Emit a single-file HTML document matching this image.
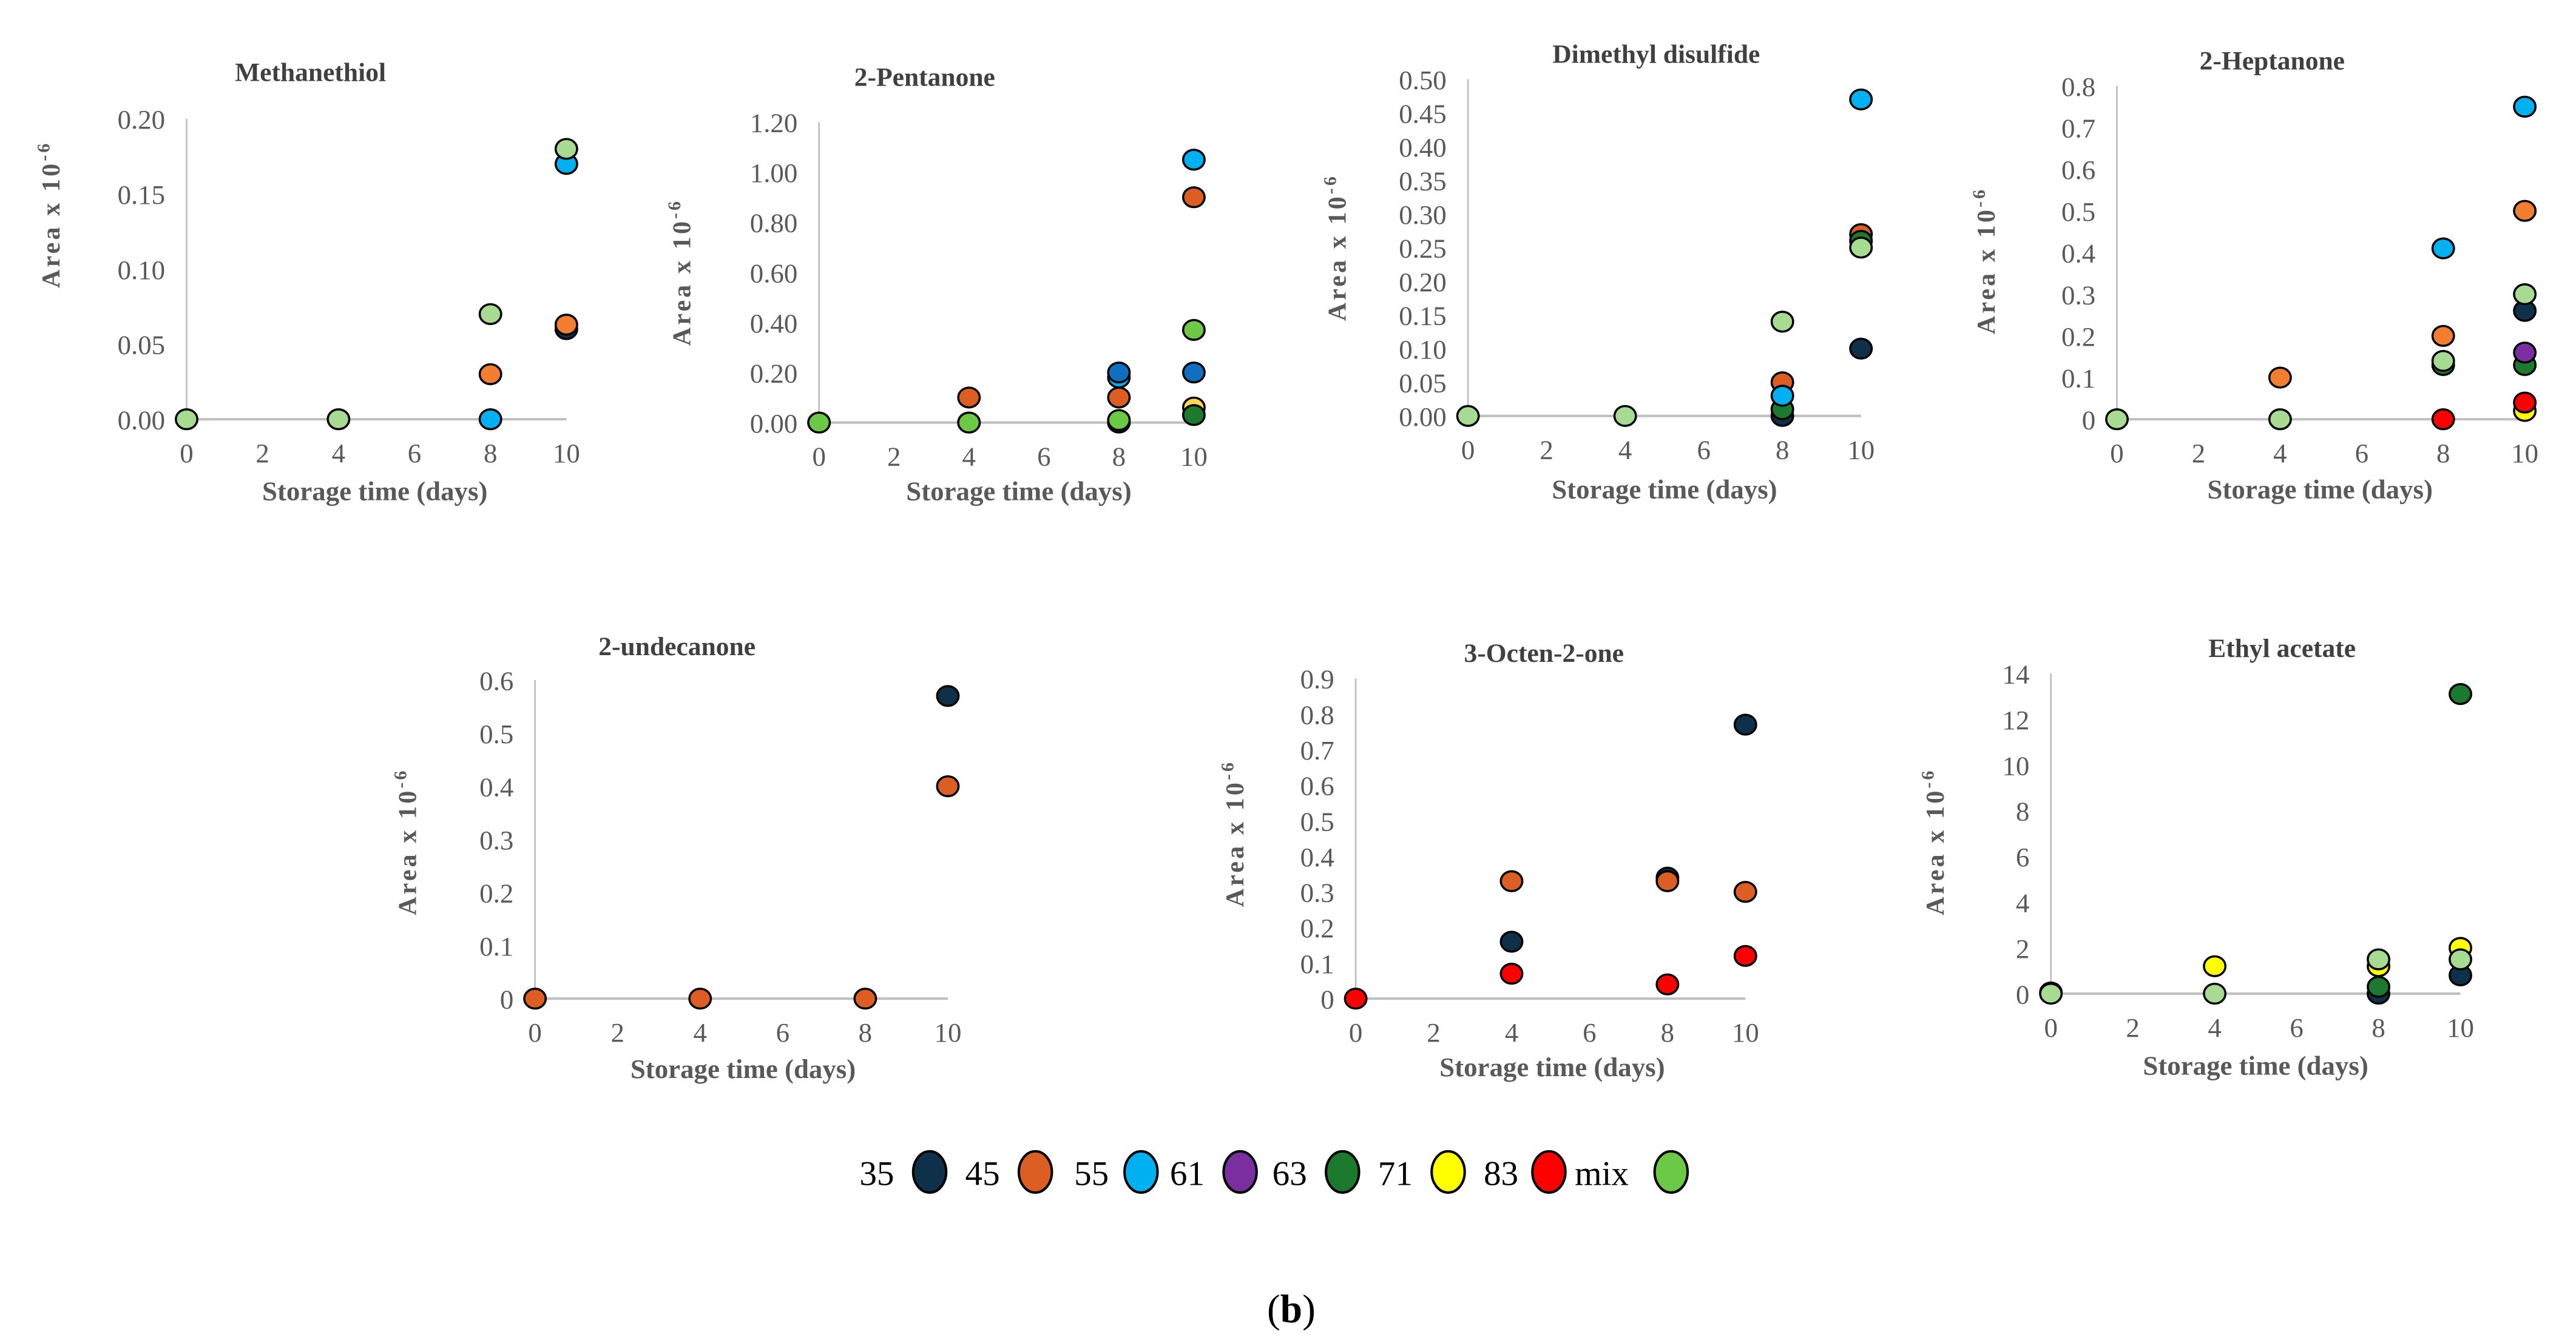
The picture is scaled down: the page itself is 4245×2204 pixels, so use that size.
<!DOCTYPE html>
<html><head><meta charset="utf-8"><style>
html,body{margin:0;padding:0;background:#fff;}
svg{display:block;}
</style></head><body>
<svg id="fig" width="4245" height="2204" viewBox="0 0 1560 810" preserveAspectRatio="none" xmlns="http://www.w3.org/2000/svg" font-family="'Liberation Serif', serif"></svg>
<script>
const xDays = [0, 4, 8, 10];
const xTicks = [0, 2, 4, 6, 8, 10];
const colorNames = ["navy","orange","orange-light","sky","blue","purple","darkgreen","yellow","yellow-light","red","green","lightgreen"];
const colorValues = ["#0e3149","#dd5e22","#f47e30","#00b0f0","#1070c0","#7a2fa0","#1b7a2e","#ffff00","#ffd750","#ff0000","#6cc945","#a8db92"];

const titles = ["Methanethiol","2-Pentanone","Dimethyl disulfide","2-Heptanone","2-undecanone","3-Octen-2-one","Ethyl acetate"];
const yTicks1 = ["0.00","0.05","0.10","0.15","0.20"];
const yTicks2 = ["0.00","0.20","0.40","0.60","0.80","1.00","1.20"];
const yTicks3 = ["0.00","0.05","0.10","0.15","0.20","0.25","0.30","0.35","0.40","0.45","0.50"];
const yTicks4 = ["0","0.1","0.2","0.3","0.4","0.5","0.6","0.7","0.8"];
const yTicks5 = ["0","0.1","0.2","0.3","0.4","0.5","0.6"];
const yTicks6 = ["0","0.1","0.2","0.3","0.4","0.5","0.6","0.7","0.8","0.9"];
const yTicks7 = ["0","2","4","6","8","10","12","14"];

const series1 = [
 ["navy",[null,null,null,0.06]],
 ["orange-light",[null,null,0.03,0.063]],
 ["sky",[null,null,0,0.17]],
 ["lightgreen",[0,0,0.07,0.18]]];
const series2 = [
 ["navy",[0,0,0,null]],
 ["orange",[null,0.1,0.1,0.9]],
 ["sky",[null,null,0.18,1.05]],
 ["blue",[null,null,0.2,0.2]],
 ["yellow-light",[null,null,null,0.06]],
 ["green",[0,0,0.01,0.37]],
 ["darkgreen",[null,null,null,0.03]]];
const series3 = [
 ["navy",[null,null,0,0.1]],
 ["orange",[null,null,0.05,0.27]],
 ["darkgreen",[null,null,0.01,0.26]],
 ["sky",[null,null,0.03,0.47]],
 ["lightgreen",[0,0,0.14,0.25]]];
const series4 = [
 ["yellow",[null,null,null,0.02]],
 ["red",[null,null,0,0.04]],
 ["darkgreen",[null,null,0.13,0.13]],
 ["purple",[null,null,null,0.16]],
 ["navy",[null,null,null,0.26]],
 ["orange-light",[null,0.1,0.2,0.5]],
 ["sky",[null,null,0.41,0.75]],
 ["lightgreen",[0,0,0.14,0.3]]];
const series5 = [
 ["navy",[null,null,null,0.57]],
 ["orange",[0,0,0,0.4]]];
const series6 = [
 ["navy",[null,0.16,0.34,0.77]],
 ["orange",[null,0.33,0.33,0.3]],
 ["red",[0,0.07,0.04,0.12]]];
const series7 = [
 ["navy",[0.05,null,0,0.8]],
 ["yellow",[null,1.2,1.2,2.0]],
 ["lightgreen",[0,0,1.5,1.5]],
 ["darkgreen",[null,null,0.3,13.1]]];

const legendLabels = ["35","45","55","61","63","71","83","mix"];
const legendColors = ["navy","orange","sky","purple","darkgreen","yellow","red","green"];

const NS="http://www.w3.org/2000/svg";
const svg=document.getElementById('fig');
function mk(tag,attrs,parent){const e=document.createElementNS(NS,tag);for(const k in attrs)e.setAttribute(k,attrs[k]);(parent||svg).appendChild(e);return e;}
function col(n){return colorValues[colorNames.indexOf(n)];}

const layouts=[
 {ax:113,x10:343,y0:254,yt:72,tx:188,ty:49,yx:36,yy:130,xx:227,xy:303},
 {ax:496,x10:723,y0:256,yt:74,tx:560,ty:52,yx:418,yy:165,xx:617,xy:303},
 {ax:889,x10:1127,y0:252,yt:48,tx:1003,ty:38,yx:815,yy:150,xx:1008,xy:302},
 {ax:1282,x10:1529,y0:254,yt:52,tx:1376,ty:42,yx:1208,yy:158,xx:1405,xy:302},
 {ax:324,x10:574,y0:605,yt:412,tx:410,ty:397,yx:252,yy:510,xx:450,xy:653},
 {ax:821,x10:1057,y0:605,yt:411,tx:935,ty:401,yx:753,yy:505,xx:940,xy:652},
 {ax:1242,x10:1490,y0:602,yt:408,tx:1382,ty:398,yx:1177,yy:510,xx:1366,xy:651}];
const allTicks=[yTicks1,yTicks2,yTicks3,yTicks4,yTicks5,yTicks6,yTicks7];
const allSeries=[series1,series2,series3,series4,series5,series6,series7];

layouts.forEach((L,i)=>{
  const g=mk('g',{});
  
  
  const ticks=allTicks[i];
  const ymax=parseFloat(ticks[ticks.length-1]);
  const xs=d=>L.ax+(L.x10-L.ax)*d/10;
  const ys=v=>L.y0-(L.y0-L.yt)*v/ymax;
  const t=mk('text',{x:L.tx,y:L.ty,'text-anchor':'middle','font-size':16,'font-weight':'bold',fill:'#404040'},g);t.textContent=titles[i];
  
  const va=mk('line',{x1:L.ax,x2:L.ax,y1:L.yt,y2:L.y0,stroke:'#bfbfbf','stroke-width':1},g);
  
  const ha=mk('line',{x1:L.ax,x2:L.x10,y1:L.y0,y2:L.y0,stroke:'#bfbfbf','stroke-width':1.5},g);
  
  ticks.forEach(tk=>{
    const e=mk('text',{x:L.ax-13,y:ys(parseFloat(tk))+6,'text-anchor':'end','font-size':16.5,fill:'#595959'},g);e.textContent=tk;
    
  });
  xTicks.forEach(d=>{
    const e=mk('text',{x:xs(d),y:L.y0+26,'text-anchor':'middle','font-size':16.5,fill:'#595959'},g);e.textContent=d;
    
  });
  const xt=mk('text',{x:L.xx,y:L.xy,'text-anchor':'middle','font-size':16.5,'font-weight':'bold',fill:'#595959'},g);xt.textContent='Storage time (days)';
  
  const yt=mk('text',{x:0,y:0,'text-anchor':'middle','font-size':15.5,'font-weight':'bold','letter-spacing':1.5,fill:'#595959',transform:`translate(${L.yx},${L.yy}) rotate(-90)`},g);
  yt.textContent='Area x 10';
  const sup=mk('tspan',{dy:-6,'font-size':11},yt);sup.textContent='-6';
  
  allSeries[i].forEach(s=>{
    s[1].forEach((v,j)=>{
      if(v===null)return;
      const c=mk('ellipse',{cx:xs(xDays[j]),cy:ys(v),rx:6.5,ry:6,fill:col(s[0]),stroke:'#000','stroke-width':1.3},g);
      
      
    });
  });
});

const lg=mk('g',{});

const lx=[531,595,661,719,781,845,909,970];
const lc=[563,627,691,751,813,877,938,1012];
legendLabels.forEach((lab,i)=>{
  const t=mk('text',{x:lx[i],y:718,'text-anchor':'middle','font-size':21,fill:'#000'},lg);t.textContent=lab;
  
  const e=mk('ellipse',{cx:lc[i],cy:710,rx:10,ry:12.5,fill:col(legendColors[i]),stroke:'#000','stroke-width':1.5},lg);
  
});
const b=mk('text',{x:782,y:801,'text-anchor':'middle','font-size':24,fill:'#000'});
b.innerHTML='(<tspan font-weight="bold">b</tspan>)';

</script>
</body></html>
